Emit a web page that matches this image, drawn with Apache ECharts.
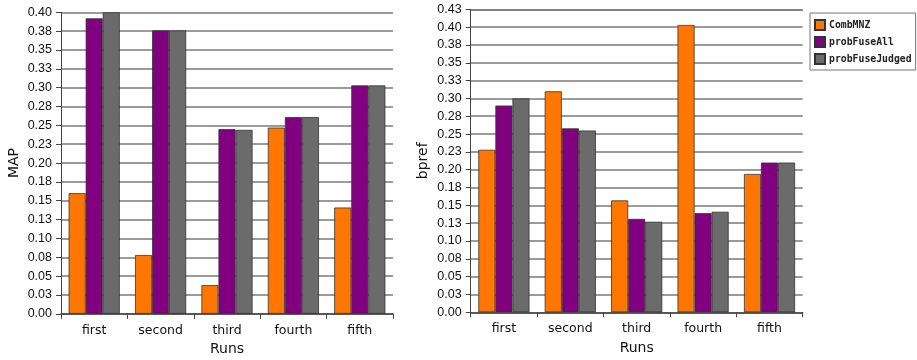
<!DOCTYPE html>
<html>
<head>
<meta charset="utf-8">
<script src="https://cdn.jsdelivr.net/npm/echarts@6/dist/echarts.min.js"></script>
<style>
  html, body { margin: 0; padding: 0; background: #fff; }
  #chart { width: 917px; height: 360px; }
</style>
</head>
<body>
<div id="chart"></div>
<script>
// Runs shared by both panels
const runs = ['first', 'second', 'third', 'fourth', 'fifth'];
const seriesNames = ['CombMNZ', 'probFuseAll', 'probFuseJudged'];

// MAP per run
const mapCombMNZ = [0.160, 0.078, 0.038, 0.247, 0.141];
const mapProbFuseAll = [0.392, 0.376, 0.245, 0.261, 0.303];
const mapProbFuseJudged = [0.400, 0.376, 0.244, 0.261, 0.303];

// bpref per run
const bprefCombMNZ = [0.228, 0.310, 0.157, 0.403, 0.194];
const bprefProbFuseAll = [0.290, 0.258, 0.131, 0.139, 0.210];
const bprefProbFuseJudged = [0.300, 0.255, 0.127, 0.141, 0.210];

// Tick labels (steps of 0.025 shown with two decimals)
const mapTickLabels = ['0.00','0.03','0.05','0.08','0.10','0.13','0.15','0.18','0.20','0.23','0.25','0.28','0.30','0.33','0.35','0.38','0.40'];
const bprefTickLabels = ['0.00','0.03','0.05','0.08','0.10','0.13','0.15','0.18','0.20','0.23','0.25','0.28','0.30','0.33','0.35','0.38','0.40','0.43'];

const colors = ['#ff7700', '#800080', '#6b6b6b'];
const tickStep = 0.025;

const chart = echarts.init(document.getElementById('chart'), null, { renderer: 'canvas' });

function yAxisFor(gridIndex, name, labels, nameGap) {
  return {
    gridIndex,
    type: 'value',
    min: 0,
    max: tickStep * (labels.length - 1),
    interval: tickStep,
    name,
    nameLocation: 'middle',
    nameRotate: 90,
    nameGap,
    nameTextStyle: { fontFamily: 'DejaVu Sans', fontSize: 14, color: '#111' },
    axisLine: { show: true, lineStyle: { color: '#444', width: 1 } },
    axisTick: { show: true, length: 5, lineStyle: { color: '#444' } },
    axisLabel: {
      margin: 9,
      fontFamily: 'Liberation Sans',
      fontSize: 12.5,
      color: '#111',
      formatter: v => labels[Math.round(v / tickStep)]
    },
    splitLine: { show: true, lineStyle: { color: '#7a7a7a', width: 1.5 } }
  };
}

function xAxisFor(gridIndex) {
  return {
    gridIndex,
    type: 'category',
    data: runs,
    name: 'Runs',
    nameLocation: 'middle',
    nameGap: 29,
    nameTextStyle: { fontFamily: 'DejaVu Sans', fontSize: 14, color: '#111' },
    axisLine: { show: true, lineStyle: { color: '#444', width: 1.5 } },
    axisTick: { show: true, length: 5, lineStyle: { color: '#444' } },
    axisLabel: { margin: 10, fontFamily: 'DejaVu Sans', fontSize: 12.5, color: '#111' }
  };
}

function barSeries(name, data, idx, axisIndex) {
  return {
    name,
    type: 'bar',
    xAxisIndex: axisIndex,
    yAxisIndex: axisIndex,
    data,
    barGap: '0%',
    barCategoryGap: '23%',
    itemStyle: { color: colors[idx], borderColor: '#333', borderWidth: 0.8 }
  };
}

chart.setOption({
  animation: false,
  backgroundColor: '#fff',
  grid: [
    { left: 61, top: 12.3, width: 332, height: 301.5, outerBoundsMode: 'none', containLabel: false },
    { left: 470.7, top: 9.3, width: 332, height: 303, outerBoundsMode: 'none', containLabel: false }
  ],
  xAxis: [xAxisFor(0), xAxisFor(1)],
  yAxis: [
    yAxisFor(0, 'MAP', mapTickLabels, 40),
    yAxisFor(1, 'bpref', bprefTickLabels, 40)
  ],
  legend: {
    data: seriesNames,
    orient: 'vertical',
    left: 810,
    top: 13,
    icon: 'rect',
    itemWidth: 10,
    itemHeight: 10,
    itemGap: 5,
    padding: [6, 4, 5, 4],
    borderColor: '#777',
    borderWidth: 1,
    textStyle: { fontFamily: 'DejaVu Sans Mono', fontWeight: 'bold', fontSize: 9.8, color: '#222', padding: [0, 0, 0, -1] }
  },
  series: [
    barSeries(seriesNames[0], mapCombMNZ, 0, 0),
    barSeries(seriesNames[1], mapProbFuseAll, 1, 0),
    barSeries(seriesNames[2], mapProbFuseJudged, 2, 0),
    barSeries(seriesNames[0], bprefCombMNZ, 0, 1),
    barSeries(seriesNames[1], bprefProbFuseAll, 1, 1),
    barSeries(seriesNames[2], bprefProbFuseJudged, 2, 1)
  ]
});
</script>
</body>
</html>
